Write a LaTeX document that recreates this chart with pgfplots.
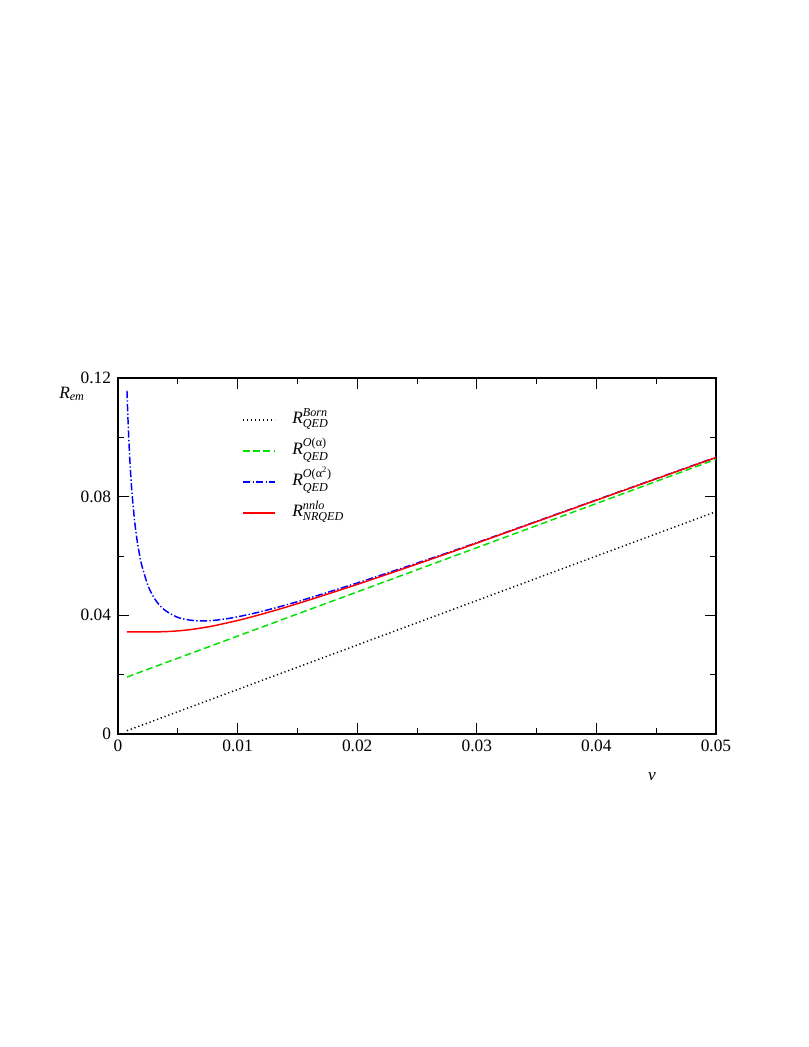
\documentclass[12pt,border=0pt]{standalone}
\usepackage{amsmath}
\usepackage{fontspec}
\setmainfont{Liberation Serif}
\usepackage{pgfplots}
\pgfplotsset{compat=1.18}

\definecolor{lgreen}{RGB}{0,225,0}
\newcommand{\bigfont}{\fontsize{13pt}{16pt}\selectfont}

\begin{document}
\begin{tikzpicture}
\useasboundingbox (0pt,0pt) rectangle (606.75pt,785.25pt);
\begin{axis}[
  at={(88.5pt,234.75pt)}, anchor=south west,
  scale only axis, width=448.5pt, height=267pt,
  xmin=0, xmax=0.05, ymin=0, ymax=0.12,
  xtick={0,0.01,0.02,0.03,0.04,0.05},
  ytick={0,0.04,0.08,0.12},
  minor x tick num=1, minor y tick num=1,
  tick align=inside, tick pos=both,
  major tick length=8pt, minor tick length=4.3pt,
  scaled ticks=false,
  tick label style={font=\bigfont},
  label style={font=\bigfont},
  xticklabel style={/pgf/number format/fixed, /pgf/number format/precision=2},
  yticklabel style={/pgf/number format/fixed, /pgf/number format/precision=2, xshift=-1pt},
  /pgf/number format/assume math mode=true,
  axis line style={line width=1pt},
  every tick/.style={black, line width=0.7pt},
  xlabel={\textit{v}},
  xlabel style={at={(axis description cs:0.893,-0.121)}, anchor=center},
  ylabel={$\textit{R}_{\textit{em}}$},
  ylabel style={rotate=-90, at={(axis description cs:-0.077,0.955)}, anchor=center},
  legend cell align=left,
  legend style={draw=none, fill=none, font=\bigfont,
    at={(axis description cs:0.2006,0.924)},
    anchor=north west, row sep=5.25pt,
    nodes={inner sep=0pt, text height=12pt, text depth=6pt}},
  legend image code/.code={\draw[#1] (0pt,0pt) -- (24pt,0pt);},
]
\addplot[black, line width=1.1pt, dash pattern=on 0.9pt off 2.1pt] coordinates {
  (0.00075,0.00112) (0.01,0.01500) (0.02,0.02999) (0.03,0.04499)
  (0.04,0.05997) (0.05,0.07494)
};
\addlegendentry{\hspace{12.5pt}$\textit{R}^{\textit{Born}}_{\textit{QED}}$}
\addplot[lgreen, line width=1.1pt, dash pattern=on 5pt off 2.7pt] coordinates {
  (0.00075,0.0192) (0.01,0.0330) (0.02,0.0479) (0.03,0.0628)
  (0.04,0.0777) (0.05,0.0926)
};
\addlegendentry{\hspace{12.5pt}$\textit{R}^{\text{\itshape O\upshape(α)}}_{\textit{QED}}$}
\addplot[blue, line width=1.1pt, dash pattern=on 5.5pt off 1.7pt on 1pt off 1.7pt, smooth] coordinates {
  (0.00075,0.1157) (0.0008,0.1097) (0.0009,0.0997) (0.001,0.0917)
  (0.0011,0.0852) (0.0012,0.0798) (0.0014,0.0714) (0.0016,0.0652)
  (0.0018,0.0605) (0.002,0.0567) (0.0025,0.0501) (0.003,0.0460)
  (0.0035,0.0433) (0.004,0.0415) (0.005,0.0393) (0.006,0.0384)
  (0.007,0.0381) (0.008,0.0383) (0.009,0.0388) (0.01,0.0395)
  (0.012,0.0413) (0.015,0.0446) (0.02,0.0509) (0.025,0.0576)
  (0.03,0.0645) (0.04,0.0789) (0.05,0.0933)
};
\addlegendentry{\hspace{12.5pt}$\textit{R}^{\text{\itshape O\upshape(α\textsuperscript{2})}}_{\textit{QED}}$}
\addplot[red, line width=1.1pt, smooth] coordinates {
  (0.00075,0.0344) (0.002,0.0344) (0.003,0.03441) (0.004,0.03451)
  (0.005,0.03476) (0.006,0.03517) (0.007,0.03575) (0.008,0.03647)
  (0.01,0.03826) (0.012,0.04037) (0.015,0.04392) (0.02,0.05042)
  (0.025,0.05728) (0.03,0.06435) (0.04,0.07880) (0.05,0.0932)
};
\addlegendentry{\hspace{12.5pt}$\textit{R}^{\textit{nnlo}}_{\textit{NRQED}}$}
\end{axis}
\end{tikzpicture}
\end{document}
